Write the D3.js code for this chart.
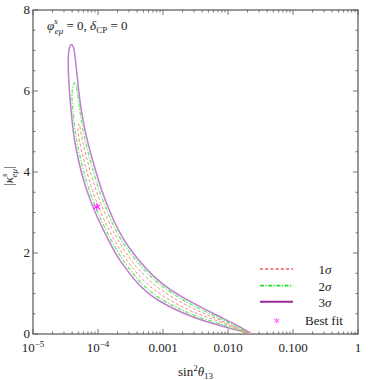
<!DOCTYPE html>
<html>
<head>
<meta charset="utf-8">
<script src="https://cdn.jsdelivr.net/npm/d3@7"></script>
<style>
  body { margin: 0; background: #fff; }
  text { font-family: "Liberation Serif", "DejaVu Serif", serif; fill: #222; }
</style>
</head>
<body>
<svg></svg>
<script>
var width = 382, height = 380;
var svg = d3.select("svg").attr("width", width).attr("height", height);

// contours [sin^2 theta13, |kappa|]: up the lower edge to the tip, then back down the upper edge
var sigma3 = [
  [0.02315, 0], [0.01530, 0.074], [9.550e-3, 0.165], [2.926e-3, 0.388], [7.533e-4, 0.840],
  [3.938e-4, 1.252], [2.450e-4, 1.704], [2.031e-4, 1.877], [1.441e-4, 2.321], [1.011e-4, 2.815],
  [7.533e-5, 3.309], [5.940e-5, 3.802], [4.977e-5, 4.296], [4.319e-5, 4.790], [4.053e-5, 5.160],
  [3.709e-5, 5.778], [3.455e-5, 6.519], [3.493e-5, 7.012], [3.843e-5, 7.185], [4.273e-5, 7.104],
  [4.587e-5, 6.649], [4.977e-5, 6.074], [5.614e-5, 5.415], [6.772e-5, 4.790], [8.231e-5, 4.296],
  [1.011e-4, 3.802], [1.281e-4, 3.309], [1.719e-4, 2.815], [2.450e-4, 2.321], [3.938e-4, 1.869],
  [7.092e-4, 1.415], [1.281e-3, 1.086], [2.926e-3, 0.758], [7.533e-3, 0.420], [0.01376, 0.222],
  [0.02315, 0]
];
var sigma2 = [
  [0.02258, 0], [0.01530, 0.086], [7.533e-3, 0.254], [2.926e-3, 0.452], [1.530e-3, 0.674],
  [7.533e-4, 0.931], [3.938e-4, 1.356], [2.267e-4, 1.877], [1.579e-4, 2.321], [1.108e-4, 2.815],
  [8.259e-5, 3.309], [6.513e-5, 3.802], [5.419e-5, 4.296], [4.669e-5, 4.790], [4.334e-5, 5.160],
  [3.938e-5, 5.778], [4.023e-5, 6.074], [4.319e-5, 6.259], [4.719e-5, 6.123], [4.941e-5, 5.778],
  [5.674e-5, 5.160], [6.265e-5, 4.790], [7.561e-5, 4.296], [9.218e-5, 3.802], [1.169e-4, 3.309],
  [1.568e-4, 2.815], [2.235e-4, 2.321], [3.505e-4, 1.877], [7.533e-4, 1.291], [1.530e-3, 0.953],
  [2.926e-3, 0.694], [7.533e-3, 0.383], [0.01530, 0.136], [0.02258, 0]
];
var sigma1 = [
  [0.02258, 0], [0.01530, 0.099], [7.533e-3, 0.309], [2.926e-3, 0.528], [1.530e-3, 0.763],
  [7.533e-4, 1.047], [3.938e-4, 1.486], [2.603e-4, 1.877], [1.763e-4, 2.321], [1.237e-4, 2.815],
  [9.218e-5, 3.309], [7.271e-5, 3.802], [6.026e-5, 4.296], [5.120e-5, 4.790], [4.855e-5, 5.037],
  [5.102e-5, 5.259], [5.381e-5, 5.037], [5.714e-5, 4.790], [6.796e-5, 4.296], [8.259e-5, 3.802],
  [1.047e-4, 3.309], [1.405e-4, 2.815], [2.002e-4, 2.321], [3.052e-4, 1.877], [3.938e-4, 1.635],
  [7.533e-4, 1.175], [1.530e-3, 0.864], [2.926e-3, 0.617], [7.533e-3, 0.346], [0.01530, 0.123],
  [0.02258, 0]
];
var bestFit = [9.6e-5, 3.14];

var xTickValues = [1e-5, 1e-4, 1e-3, 1e-2, 1e-1, 1];
var xTickLabels = ["10^-5", "10^-4", "0.001", "0.010", "0.100", "1"];
var yTickValues = [0, 2, 4, 6, 8];
var legendLabels = ["1", "2", "3"];

var margin = {left: 33, right: 24, top: 10, bottom: 46};
var x = d3.scaleLog().domain([1e-5, 1]).range([margin.left, width - margin.right]);
var y = d3.scaleLinear().domain([0, 8]).range([height - margin.bottom, margin.top]);

var x0 = x.range()[0], x1 = x.range()[1], y0 = y.range()[0], y1 = y.range()[1];

svg.append("defs").append("clipPath").attr("id", "plotclip")
  .append("rect").attr("x", x0).attr("y", y1).attr("width", x1 - x0).attr("height", y0 - y1);

// minor ticks
var xMinor = x.ticks().filter(function (d) { return xTickValues.indexOf(d) < 0; });
var yMinor = d3.range(0, 8.01, 0.5).filter(function (d) { return d % 2 !== 0; });

var axisColor = "#555";
var axes = svg.append("g");

function tickLines(vals, scale, horiz, len) {
  vals.forEach(function (v) {
    var p = scale(v);
    if (horiz) {
      axes.append("line").attr("x1", p).attr("x2", p).attr("y1", y0).attr("y2", y0 - len)
        .attr("stroke", axisColor).attr("stroke-width", 0.8);
      axes.append("line").attr("x1", p).attr("x2", p).attr("y1", y1).attr("y2", y1 + len)
        .attr("stroke", axisColor).attr("stroke-width", 0.8);
    } else {
      axes.append("line").attr("y1", p).attr("y2", p).attr("x1", x0).attr("x2", x0 + len)
        .attr("stroke", axisColor).attr("stroke-width", 0.8);
      axes.append("line").attr("y1", p).attr("y2", p).attr("x1", x1).attr("x2", x1 - len)
        .attr("stroke", axisColor).attr("stroke-width", 0.8);
    }
  });
}
tickLines(xTickValues, x, true, 5);
tickLines(xMinor, x, true, 2.5);
tickLines(yTickValues, y, false, 5);
tickLines(yMinor, y, false, 2.5);

axes.append("rect").attr("x", x0).attr("y", y1).attr("width", x1 - x0).attr("height", y0 - y1)
  .attr("fill", "none").attr("stroke", axisColor).attr("stroke-width", 1.2);

// x tick labels
xTickValues.forEach(function (v, i) {
  var parts = xTickLabels[i].split("^");
  var t = axes.append("text").attr("x", x(v)).attr("y", y0 + 18)
    .attr("text-anchor", "middle").style("font-size", "13px").text(parts[0]);
  if (parts[1]) {
    t.append("tspan").attr("dy", -5).style("font-size", "9px").text(parts[1].replace("-", "−"));
  }
});
// y tick labels
yTickValues.forEach(function (v) {
  axes.append("text").attr("x", x0 - 3).attr("y", y(v) + 4)
    .attr("text-anchor", "end").style("font-size", "13px").text(v);
});

// axis titles
var xl = svg.append("text").attr("x", (x0 + x1) / 2).attr("y", 376)
  .attr("text-anchor", "middle").style("font-size", "13px").text("sin");
xl.append("tspan").attr("dy", -5).style("font-size", "9px").text("2");
xl.append("tspan").attr("dy", 5).style("font-style", "italic").text("θ");
xl.append("tspan").attr("dy", 3).style("font-size", "9px").text("13");

var yl = svg.append("text").attr("transform", "translate(13," + y(3.9) + ") rotate(-90)")
  .attr("text-anchor", "middle").style("font-size", "13px").text("|");
yl.append("tspan").style("font-style", "italic").text("κ");
yl.append("tspan").attr("dy", -6).style("font-size", "9px").style("font-style", "italic").text("s");
yl.append("tspan").attr("dx", -4).attr("dy", 9.5).style("font-size", "9px").style("font-style", "italic").text("eμ");
yl.append("tspan").attr("dy", -3.5).text("|");

// annotation inside plot
var tt = svg.append("text").attr("x", 47).attr("y", 30).style("font-size", "13px");
tt.append("tspan").style("font-style", "italic").text("φ");
tt.append("tspan").attr("dy", -6).style("font-size", "9px").style("font-style", "italic").text("s");
tt.append("tspan").attr("dx", -3).attr("dy", 9.5).style("font-size", "9px").style("font-style", "italic").text("eμ");
tt.append("tspan").attr("dy", -3.5).text(" = 0, ");
tt.append("tspan").style("font-style", "italic").text("δ");
tt.append("tspan").attr("dy", 3).style("font-size", "9px").text("CP");
tt.append("tspan").attr("dy", -3).text(" = 0");

// contours
var line = d3.line()
  .x(function (d) { return x(d[0]); })
  .y(function (d) { return y(d[1]); })
  .curve(d3.curveBasis);

var styles = [
  {data: sigma1, color: "#f58a8a", legend: "#ee5a5a", width: 1, dash: "3,2.2"},
  {data: sigma2, color: "#66ee66", legend: "#22dd22", width: 1.3, dash: "4,1.5,1.2,1.5"},
  {data: sigma3, color: "#c07ccf", legend: "#9a2a9a", width: 1.5, dash: null}
];

var plot = svg.append("g").attr("clip-path", "url(#plotclip)");
styles.slice().reverse().forEach(function (s) {
  plot.append("path").attr("d", line(s.data)).attr("fill", "none")
    .attr("stroke", s.color).attr("stroke-width", s.width)
    .attr("stroke-dasharray", s.dash);
});

var star = d3.symbol().type(d3.symbolAsterisk).size(40);
plot.append("path").attr("d", star())
  .attr("transform", "translate(" + x(bestFit[0]) + "," + y(bestFit[1]) + ")")
  .attr("fill", "none").attr("stroke", "#ff22ff").attr("stroke-width", 1.1);

// legend
var lg = svg.append("g");
var rowY = [269, 285.7, 301.7, 320.7];
styles.forEach(function (s, i) {
  lg.append("line").attr("x1", 260).attr("x2", 293).attr("y1", rowY[i]).attr("y2", rowY[i])
    .attr("stroke", s.legend).attr("stroke-width", s.width + 0.4)
    .attr("stroke-dasharray", s.dash);
  var t = lg.append("text").attr("x", 325).attr("y", rowY[i] + 5).attr("text-anchor", "middle")
    .style("font-size", "13px").text(legendLabels[i]);
  t.append("tspan").style("font-style", "italic").text("σ");
});
lg.append("path").attr("d", d3.symbol().type(d3.symbolAsterisk).size(25)())
  .attr("transform", "translate(276.7," + rowY[3] + ")")
  .attr("fill", "none").attr("stroke", "#ff66ff").attr("stroke-width", 1);
lg.append("text").attr("x", 305).attr("y", rowY[3] + 4.5)
  .style("font-size", "13px").text("Best fit");
</script>
</body>
</html>
